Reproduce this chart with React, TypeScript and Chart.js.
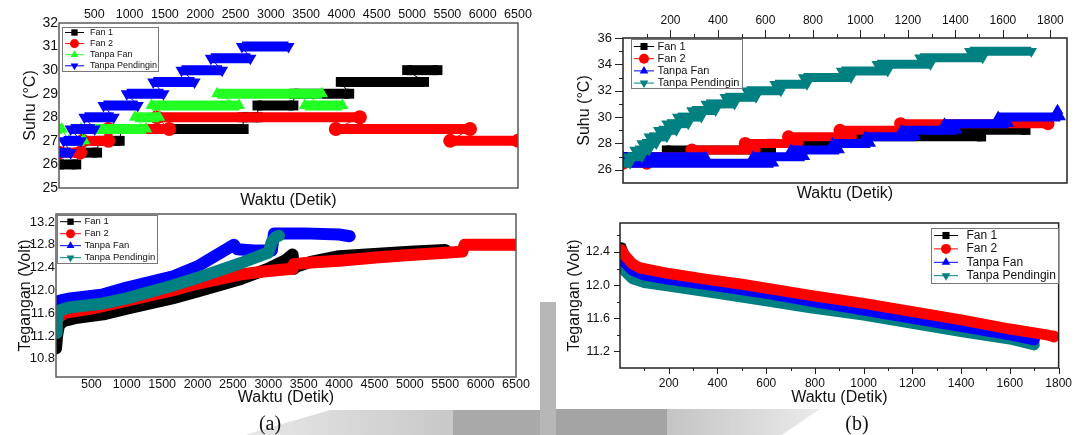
import React, { useEffect, useRef } from 'react';
import { Chart, registerables } from 'chart.js';

Chart.register(...registerables);

const SANS = "'Liberation Sans', Arial, Helvetica, sans-serif";
const SERIF = "'Liberation Serif', 'Times New Roman', serif";

const SERIES_NAMES = ['Fan 1', 'Fan 2', 'Tanpa Fan', 'Tanpa Pendingin'];
const X_TITLE = 'Waktu (Detik)';
const SUHU_TITLE = 'Suhu (°C)';
const VOLT_TITLE = 'Tegangan (Volt)';

// ---------- (a) top : Suhu, plateaus (start, end, level) ----------
const aSuhuFan1Start = [0, 276, 560, 880, 2600, 2810, 3330, 3990, 4930];
const aSuhuFan1End = [245, 540, 860, 2615, 2820, 3320, 4110, 5170, 5360];
const aSuhuFan1Level = [26, 26.5, 27, 27.5, 28, 28.5, 29, 29.5, 30];

const aSuhuFan2Start = [0, 335, 700, 1385, 3920, 5540];
const aSuhuFan2End = [300, 700, 1560, 4260, 5820, 6500];
const aSuhuFan2Level = [26.5, 27, 27.5, 28, 27.5, 27];

const aSuhuTanpaFanStart = [0, 140, 310, 1075, 1310, 2240, 3480];
const aSuhuTanpaFanEnd = [40, 360, 1235, 1420, 2550, 3725, 4015];
const aSuhuTanpaFanLevel = [27.5, 27, 27.5, 28, 28.5, 29, 28.5];

const aSuhuPendinginStart = [0, 65, 165, 360, 630, 960, 1335, 1735, 2150, 2590];
const aSuhuPendinginEnd = [165, 310, 505, 775, 1115, 1480, 1920, 2310, 2710, 3250];
const aSuhuPendinginLevel = [26.5, 27, 27.5, 28, 28.5, 29, 29.5, 30, 30.5, 31];

// ---------- (a) bottom : Tegangan ----------
const aVoltFan1X = [0, 15, 40, 100, 300, 668, 1000, 1641, 2000, 2614, 3000, 3246, 3343, 3360, 3400, 3600, 4000, 4500, 5000, 5500];
const aVoltFan1Y = [10.98, 11.2, 11.38, 11.46, 11.52, 11.58, 11.68, 11.86, 11.98, 12.2, 12.38, 12.53, 12.63, 12.38, 12.42, 12.5, 12.6, 12.64, 12.68, 12.71];

const aVoltFan2X = [0, 20, 100, 500, 1000, 1641, 2000, 2614, 3000, 3343, 3360, 3600, 4000, 4560, 5000, 5500, 5740, 5775, 6000, 6500];
const aVoltFan2Y = [11.3, 11.5, 11.6, 11.68, 11.82, 12.0, 12.12, 12.28, 12.34, 12.38, 12.46, 12.49, 12.52, 12.58, 12.62, 12.66, 12.68, 12.8, 12.8, 12.8];

const aVoltTanpaFanX = [0, 50, 200, 668, 1000, 1641, 2000, 2515, 2560, 2800, 3050, 3080, 3500, 4000, 4150];
const aVoltTanpaFanY = [11.75, 11.82, 11.86, 11.93, 12.05, 12.24, 12.42, 12.8, 12.72, 12.7, 12.7, 13.0, 13.0, 12.98, 12.95];

const aVoltPendinginX = [0, 10, 25, 60, 182, 668, 1000, 1641, 2000, 2614, 2906, 3000, 3050, 3100, 3150];
const aVoltPendinginY = [11.25, 11.45, 11.58, 11.65, 11.7, 11.77, 11.86, 12.08, 12.22, 12.48, 12.62, 12.66, 12.85, 12.93, 12.96];

// ---------- (b) top : Suhu plateaus ----------
const bSuhuFan1Start = [0, 183, 625, 911, 1376];
const bSuhuFan1End = [183, 625, 911, 1510, 1697];
const bSuhuFan1Level = [27, 27.5, 28, 28.5, 29];

const bSuhuFan2Start = [0, 90, 290, 515, 697, 914, 1169];
const bSuhuFan2End = [100, 290, 552, 733, 958, 1190, 1790];
const bSuhuFan2Level = [26.5, 27, 27.5, 28, 28.5, 29, 29.5];

const bSuhuTanpaFanStart = [0, 30, 547, 707, 882, 1020, 1173, 1354, 1580, 1830];
const bSuhuTanpaFanEnd = [348, 634, 765, 911, 1042, 1231, 1406, 1624, 1842, 1830];
const bSuhuTanpaFanLevel = [27, 26.5, 27, 27.5, 28, 28.5, 29, 29.5, 30, 30.5];

const bSuhuPendinginStart = [0, 20, 50, 80, 110, 150, 185, 230, 290, 350, 430, 520, 640, 760, 920, 1070, 1250, 1460];
const bSuhuPendinginEnd = [30, 80, 110, 140, 185, 225, 275, 330, 390, 470, 560, 665, 775, 960, 1115, 1295, 1515, 1720];
const bSuhuPendinginLevel = [26.5, 27, 27.5, 28, 28.5, 29, 29.5, 30, 30.5, 31, 31.5, 32, 32.5, 33, 33.5, 34, 34.5, 35];

// ---------- (b) bottom : Tegangan ----------
const bVoltFan1X = [5, 20, 50, 100, 200, 400, 600, 800, 1000, 1200, 1400, 1600, 1700];
const bVoltFan1Y = [12.45, 12.33, 12.22, 12.15, 12.1, 12.01, 11.93, 11.84, 11.74, 11.64, 11.53, 11.42, 11.36];

const bVoltFan2X = [5, 20, 50, 80, 200, 357, 500, 775, 1000, 1200, 1400, 1600, 1751, 1780];
const bVoltFan2Y = [12.42, 12.36, 12.26, 12.21, 12.14, 12.07, 12.01, 11.88, 11.78, 11.68, 11.58, 11.47, 11.4, 11.38];

const bVoltTanpaFanX = [5, 20, 50, 100, 200, 400, 600, 800, 1000, 1200, 1400, 1600, 1700];
const bVoltTanpaFanY = [12.36, 12.27, 12.18, 12.12, 12.07, 11.99, 11.9, 11.8, 11.7, 11.6, 11.5, 11.4, 11.34];

const bVoltPendinginX = [5, 20, 50, 100, 200, 400, 600, 775, 1000, 1200, 1400, 1600, 1700];
const bVoltPendinginY = [12.28, 12.17, 12.08, 12.03, 11.99, 11.9, 11.81, 11.73, 11.64, 11.54, 11.44, 11.35, 11.28];

// ---------- ticks ----------
const aXTicks = [500, 1000, 1500, 2000, 2500, 3000, 3500, 4000, 4500, 5000, 5500, 6000, 6500];
const aSuhuYTicks = [25, 26, 27, 28, 29, 30, 31, 32];
const aVoltYTicks = [10.8, 11.2, 11.6, 12.0, 12.4, 12.8, 13.2];
const bXTicks = [100, 200, 300, 400, 500, 600, 700, 800, 900, 1000, 1100, 1200, 1300, 1400, 1500, 1600, 1700, 1800];
const bXLabels = [200, 400, 600, 800, 1000, 1200, 1400, 1600, 1800];
const bSuhuYTicks = [26, 27, 28, 29, 30, 31, 32, 33, 34, 35, 36];
const bSuhuYLabels = [26, 28, 30, 32, 34, 36];
const bVoltYTicks = [11.2, 11.4, 11.6, 11.8, 12.0, 12.2, 12.4, 12.6];
const bVoltYLabels = [11.2, 11.6, 12.0, 12.4];

// ---------- helpers ----------
type Pt = { x: number; y: number };
function stepPoints(starts: number[], ends: number[], levels: number[]): Pt[] {
  const pts: Pt[] = [];
  starts.forEach((s, i) => {
    pts.push({ x: s, y: levels[i] });
    pts.push({ x: ends[i], y: levels[i] });
  });
  return pts;
}
function linePoints(xs: number[], ys: number[]): Pt[] {
  return xs.map((x, i) => ({ x, y: ys[i] }));
}
function labelFrom(list: number[], digits: number) {
  return (v: number) => (list.some((l) => Math.abs(l - v) < 1e-6) ? v.toFixed(digits) : '');
}

const BLACK = '#000000';
const RED = '#ff0000';
const GREEN = '#22ff22';
const BLUE = '#0000ff';
const TEAL = '#008080';

function drawMarker(ctx: CanvasRenderingContext2D, style: string, rot: number, x: number, y: number, r: number) {
  ctx.beginPath();
  if (style === 'circle') {
    ctx.arc(x, y, r, 0, Math.PI * 2);
  } else if (style === 'rect') {
    const s = r * Math.SQRT1_2;
    ctx.rect(x - s, y - s, 2 * s, 2 * s);
  } else {
    let a = (rot * Math.PI) / 180;
    for (let k = 0; k < 3; k++) {
      const px = x + Math.sin(a) * r;
      const py = y - Math.cos(a) * r;
      if (k === 0) ctx.moveTo(px, py);
      else ctx.lineTo(px, py);
      a += (2 * Math.PI) / 3;
    }
    ctx.closePath();
  }
  ctx.fill();
}

type Series = { label: string; color: string; style: string; rotation: number; data: Pt[] };

interface PanelDef {
  left: number; top: number; w: number; h: number;
  series: Series[]; order: number[];
  kind: 'step' | 'band'; thick: number; radius: number;
  xMin: number; xMax: number; yMin: number; yMax: number;
  xTicks: number[]; yTicks: number[];
  xLabel: (v: number) => string; yLabel: (v: number) => string;
  xTop: boolean; yTitle: string;
  yW: number; xH: number; xbH: number;
  pad: { top: number; right: number; bottom: number; left: number };
  xTickSize: number; yTickSize: number; titleSize: number;
  xTickPad: number; yTickPad: number; yTitlePad: number; xTitlePad: number;
  tickLen: { major: number; minor: number } | null;
  frameColor: string;
  legend: { x: number; y: number; w: number; h: number; first: number; rowH: number; l0: number; l1: number; tx: number; font: number; r: number };
}

function buildConfig(d: PanelDef): any {
  const datasets = d.series.map((s, i) => {
    const n = s.data.length;
    const ds: any = {
      label: s.label,
      data: s.data,
      borderColor: s.color,
      backgroundColor: s.color,
      pointStyle: s.style,
      pointRotation: s.rotation,
      pointBackgroundColor: s.color,
      pointBorderColor: s.color,
      pointBorderWidth: 0,
      pointRadius: d.kind === 'step' ? d.radius : (c: any) => (c.dataIndex === 0 || c.dataIndex === n - 1 ? d.radius : 0),
      pointHoverRadius: 0,
      order: d.order[i],
      tension: 0,
      fill: false,
      borderWidth: d.kind === 'step' ? 1 : d.thick,
      borderCapStyle: d.kind === 'step' ? 'butt' : 'round',
      borderJoinStyle: 'round',
    };
    if (d.kind === 'step') {
      ds.segment = { borderWidth: (c: any) => (c.p0.parsed.y === c.p1.parsed.y ? d.thick : 1) };
    }
    return ds;
  });

  const titleFont = { family: SANS, size: d.titleSize };
  const scales: any = {
    x: {
      type: 'linear',
      position: d.xTop ? 'top' : 'bottom',
      min: d.xMin,
      max: d.xMax,
      afterBuildTicks: (s: any) => { s.ticks = d.xTicks.map((v) => ({ value: v })); },
      afterFit: (s: any) => { s.height = d.xH; },
      ticks: { autoSkip: false, maxRotation: 0, minRotation: 0, padding: d.xTickPad, color: '#111', font: { family: SANS, size: d.xTickSize }, callback: (v: number) => d.xLabel(v) },
      grid: { display: false, drawTicks: false },
      border: { display: false },
      title: d.xTop ? { display: false } : { display: true, text: X_TITLE, color: '#111', font: titleFont, padding: { top: 0, bottom: d.xTitlePad } },
    },
    y: {
      type: 'linear',
      position: 'left',
      min: d.yMin,
      max: d.yMax,
      afterBuildTicks: (s: any) => { s.ticks = d.yTicks.map((v) => ({ value: v })); },
      afterFit: (s: any) => { s.width = d.yW; },
      ticks: { autoSkip: false, padding: d.yTickPad, color: '#111', font: { family: SANS, size: d.yTickSize }, callback: (v: number) => d.yLabel(v) },
      grid: { display: false, drawTicks: false },
      border: { display: false },
      title: { display: true, text: d.yTitle, color: '#111', font: titleFont, padding: { top: d.yTitlePad, bottom: 0 } },
    },
  };
  if (d.xTop) {
    scales.xb = {
      type: 'linear',
      position: 'bottom',
      min: d.xMin,
      max: d.xMax,
      afterFit: (s: any) => { s.height = d.xbH; },
      ticks: { display: false },
      grid: { display: false, drawTicks: false },
      border: { display: false },
      title: { display: true, text: X_TITLE, color: '#111', font: titleFont, padding: { top: 0, bottom: d.xTitlePad } },
    };
  }

  const framePlugin = {
    id: 'frameTicks',
    afterDraw(chart: any) {
      const ctx = chart.ctx as CanvasRenderingContext2D;
      const a = chart.chartArea;
      ctx.save();
      ctx.strokeStyle = d.frameColor;
      ctx.lineWidth = 1.5;
      ctx.strokeRect(a.left, a.top, a.right - a.left, a.bottom - a.top);
      if (d.tickLen) {
        ctx.lineWidth = 1;
        const xs = chart.scales.x;
        xs.ticks.forEach((t: any) => {
          const p = Math.round(xs.getPixelForValue(t.value)) + 0.5;
          const len = t.label ? d.tickLen!.major : d.tickLen!.minor;
          ctx.beginPath();
          if (d.xTop) { ctx.moveTo(p, a.top - len); ctx.lineTo(p, a.top); }
          else { ctx.moveTo(p, a.bottom); ctx.lineTo(p, a.bottom + len); }
          ctx.stroke();
        });
        const ys = chart.scales.y;
        ys.ticks.forEach((t: any) => {
          const p = Math.round(ys.getPixelForValue(t.value)) + 0.5;
          const len = t.label ? d.tickLen!.major : d.tickLen!.minor;
          ctx.beginPath();
          ctx.moveTo(a.left - len, p);
          ctx.lineTo(a.left, p);
          ctx.stroke();
        });
      }
      ctx.restore();
    },
  };

  const legendPlugin = {
    id: 'boxLegend',
    afterDraw(chart: any) {
      const ctx = chart.ctx as CanvasRenderingContext2D;
      const L = d.legend;
      const x0 = L.x - d.left;
      const y0 = L.y - d.top;
      ctx.save();
      ctx.fillStyle = '#ffffff';
      ctx.fillRect(x0, y0, L.w, L.h);
      ctx.strokeStyle = '#777';
      ctx.lineWidth = 1;
      ctx.strokeRect(Math.round(x0) + 0.5, Math.round(y0) + 0.5, L.w, L.h);
      d.series.forEach((s, i) => {
        const cy = y0 + L.first + i * L.rowH;
        ctx.strokeStyle = s.color;
        ctx.lineWidth = 1;
        ctx.beginPath();
        ctx.moveTo(x0 + L.l0, cy);
        ctx.lineTo(x0 + L.l1, cy);
        ctx.stroke();
        ctx.fillStyle = s.color;
        drawMarker(ctx, s.style, s.rotation, x0 + (L.l0 + L.l1) / 2, cy, L.r);
        ctx.fillStyle = '#111';
        ctx.font = `${L.font}px ${SANS}`;
        ctx.textBaseline = 'middle';
        ctx.textAlign = 'left';
        ctx.fillText(s.label, x0 + L.tx, cy);
      });
      ctx.restore();
    },
  };

  return {
    type: 'line',
    data: { datasets },
    options: {
      responsive: false,
      animation: false,
      devicePixelRatio: 1,
      layout: { padding: d.pad },
      plugins: { legend: { display: false }, tooltip: { enabled: false } },
      events: [],
      scales,
    },
    plugins: [framePlugin, legendPlugin],
  };
}

function mk(label: string, color: string, style: string, rotation: number, data: Pt[]): Series {
  return { label, color, style, rotation, data };
}

const panelA1: PanelDef = {
  left: 0, top: 0, w: 540, h: 212,
  series: [
    mk(SERIES_NAMES[0], BLACK, 'rect', 0, stepPoints(aSuhuFan1Start, aSuhuFan1End, aSuhuFan1Level)),
    mk(SERIES_NAMES[1], RED, 'circle', 0, stepPoints(aSuhuFan2Start, aSuhuFan2End, aSuhuFan2Level)),
    mk(SERIES_NAMES[2], GREEN, 'triangle', 0, stepPoints(aSuhuTanpaFanStart, aSuhuTanpaFanEnd, aSuhuTanpaFanLevel)),
    mk(SERIES_NAMES[3], BLUE, 'triangle', 180, stepPoints(aSuhuPendinginStart, aSuhuPendinginEnd, aSuhuPendinginLevel)),
  ],
  order: [4, 3, 2, 1],
  kind: 'step', thick: 10, radius: 7,
  xMin: 0, xMax: 6500, yMin: 25, yMax: 32,
  xTicks: aXTicks, yTicks: aSuhuYTicks,
  xLabel: (v) => String(v), yLabel: (v) => String(v),
  xTop: true, yTitle: SUHU_TITLE,
  yW: 59, xH: 23, xbH: 24,
  pad: { top: 0, right: 22, bottom: 0, left: 0 },
  xTickSize: 12.5, yTickSize: 14, titleSize: 16,
  xTickPad: 1, yTickPad: 1, yTitlePad: 21, xTitlePad: 1.5,
  tickLen: null,
  frameColor: '#5a5a5a',
  legend: { x: 62, y: 27, w: 96, h: 44, first: 5.5, rowH: 11.1, l0: 3, l1: 22, tx: 28, font: 9, r: 4.5 },
};

const panelA2: PanelDef = {
  left: 0, top: 205, w: 540, h: 210,
  series: [
    mk(SERIES_NAMES[0], BLACK, 'rect', 0, linePoints(aVoltFan1X, aVoltFan1Y)),
    mk(SERIES_NAMES[1], RED, 'circle', 0, linePoints(aVoltFan2X, aVoltFan2Y)),
    mk(SERIES_NAMES[2], BLUE, 'triangle', 0, linePoints(aVoltTanpaFanX, aVoltTanpaFanY)),
    mk(SERIES_NAMES[3], TEAL, 'triangle', 180, linePoints(aVoltPendinginX, aVoltPendinginY)),
  ],
  order: [4, 3, 2, 1],
  kind: 'band', thick: 12, radius: 6,
  xMin: 0, xMax: 6500, yMin: 10.48, yMax: 13.34,
  xTicks: aXTicks, yTicks: aVoltYTicks,
  xLabel: (v) => String(v), yLabel: (v) => v.toFixed(1),
  xTop: false, yTitle: VOLT_TITLE,
  yW: 56, xH: 38, xbH: 0,
  pad: { top: 9, right: 24, bottom: 0, left: 0 },
  xTickSize: 12.5, yTickSize: 13, titleSize: 16,
  xTickPad: 0, yTickPad: 1, yTitlePad: 16.4, xTitlePad: 8,
  tickLen: null,
  frameColor: '#5a5a5a',
  legend: { x: 57, y: 215, w: 100, h: 48, first: 6.7, rowH: 12, l0: 3, l1: 24, tx: 27.5, font: 9.5, r: 4.5 },
};

const panelB1: PanelDef = {
  left: 540, top: 0, w: 540, h: 210,
  series: [
    mk(SERIES_NAMES[0], BLACK, 'rect', 0, stepPoints(bSuhuFan1Start, bSuhuFan1End, bSuhuFan1Level)),
    mk(SERIES_NAMES[1], RED, 'circle', 0, stepPoints(bSuhuFan2Start, bSuhuFan2End, bSuhuFan2Level)),
    mk(SERIES_NAMES[2], BLUE, 'triangle', 0, stepPoints(bSuhuTanpaFanStart, bSuhuTanpaFanEnd, bSuhuTanpaFanLevel)),
    mk(SERIES_NAMES[3], TEAL, 'triangle', 180, stepPoints(bSuhuPendinginStart, bSuhuPendinginEnd, bSuhuPendinginLevel)),
  ],
  order: [4, 3, 2, 1],
  kind: 'step', thick: 9, radius: 6.5,
  xMin: 0, xMax: 1870, yMin: 25, yMax: 36,
  xTicks: bXTicks, yTicks: bSuhuYTicks,
  xLabel: labelFrom(bXLabels, 0), yLabel: labelFrom(bSuhuYLabels, 0),
  xTop: true, yTitle: SUHU_TITLE,
  yW: 83, xH: 38, xbH: 27,
  pad: { top: 0, right: 13, bottom: 0, left: 0 },
  xTickSize: 12, yTickSize: 13, titleSize: 16,
  xTickPad: 10, yTickPad: 11, yTitlePad: 35, xTitlePad: 6.4,
  tickLen: { major: 8, minor: 4 },
  frameColor: '#222',
  legend: { x: 631, y: 39, w: 111, h: 49, first: 7.5, rowH: 12.2, l0: 3, l1: 23, tx: 26.5, font: 11, r: 5 },
};

const panelB2: PanelDef = {
  left: 540, top: 205, w: 540, h: 210,
  series: [
    mk(SERIES_NAMES[0], BLACK, 'rect', 0, linePoints(bVoltFan1X, bVoltFan1Y)),
    mk(SERIES_NAMES[1], RED, 'circle', 0, linePoints(bVoltFan2X, bVoltFan2Y)),
    mk(SERIES_NAMES[2], BLUE, 'triangle', 0, linePoints(bVoltTanpaFanX, bVoltTanpaFanY)),
    mk(SERIES_NAMES[3], TEAL, 'triangle', 180, linePoints(bVoltPendinginX, bVoltPendinginY)),
  ],
  order: [3, 1, 2, 4],
  kind: 'band', thick: 11, radius: 6,
  xMin: 0, xMax: 1800, yMin: 11.0, yMax: 12.75,
  xTicks: bXTicks, yTicks: bVoltYTicks,
  xLabel: labelFrom(bXLabels, 0), yLabel: labelFrom(bVoltYLabels, 1),
  xTop: false, yTitle: VOLT_TITLE,
  yW: 80, xH: 47, xbH: 0,
  pad: { top: 18, right: 14, bottom: 0, left: 0 },
  xTickSize: 12, yTickSize: 12.5, titleSize: 16,
  xTickPad: 8, yTickPad: 10, yTitlePad: 24.8, xTitlePad: 7.4,
  tickLen: { major: 6, minor: 3 },
  frameColor: '#222',
  legend: { x: 931, y: 228, w: 127, h: 55, first: 7.5, rowH: 13.4, l0: 3, l1: 27, tx: 35.5, font: 12, r: 5 },
};

const PANELS = [panelA1, panelA2, panelB1, panelB2];

function Panel({ def }: { def: PanelDef }) {
  const ref = useRef<HTMLCanvasElement | null>(null);
  useEffect(() => {
    if (!ref.current) return;
    const chart = new Chart(ref.current, buildConfig(def));
    return () => chart.destroy();
  }, [def]);
  return (
    <canvas
      ref={ref}
      width={def.w}
      height={def.h}
      style={{ position: 'absolute', left: def.left, top: def.top, width: def.w, height: def.h }}
    />
  );
}

export default function App() {
  const abs = (s: React.CSSProperties): React.CSSProperties => ({ position: 'absolute', ...s });
  return (
    <div style={{ position: 'absolute', left: 0, top: 0, width: 1080, height: 435, background: '#ffffff', overflow: 'hidden' }}>
      <div style={abs({ left: 245, top: 410, width: 208, height: 25, background: 'linear-gradient(90deg, #e8e8e8, #c8c8c8)', clipPath: 'polygon(0% 100%, 41% 0%, 100% 0%, 100% 100%)' })} />
      <div style={abs({ left: 453, top: 410, width: 87, height: 25, background: '#a9a9a9' })} />
      <div style={abs({ left: 540, top: 302, width: 16, height: 133, background: '#b7b7b7' })} />
      <div style={abs({ left: 556, top: 409, width: 111, height: 26, background: '#a4a4a4' })} />
      <div style={abs({ left: 667, top: 409, width: 153, height: 26, background: 'linear-gradient(90deg, #c4c4c4, #ebebeb)', clipPath: 'polygon(0% 0%, 100% 0%, 75% 100%, 0% 100%)' })} />
      {PANELS.map((p, i) => (
        <Panel key={i} def={p} />
      ))}
      <div style={abs({ left: 270, top: 423, transform: 'translate(-50%, -50%)', font: `20px ${SERIF}`, color: '#111' })}>(a)</div>
      <div style={abs({ left: 857, top: 423, transform: 'translate(-50%, -50%)', font: `20px ${SERIF}`, color: '#111' })}>(b)</div>
    </div>
  );
}
